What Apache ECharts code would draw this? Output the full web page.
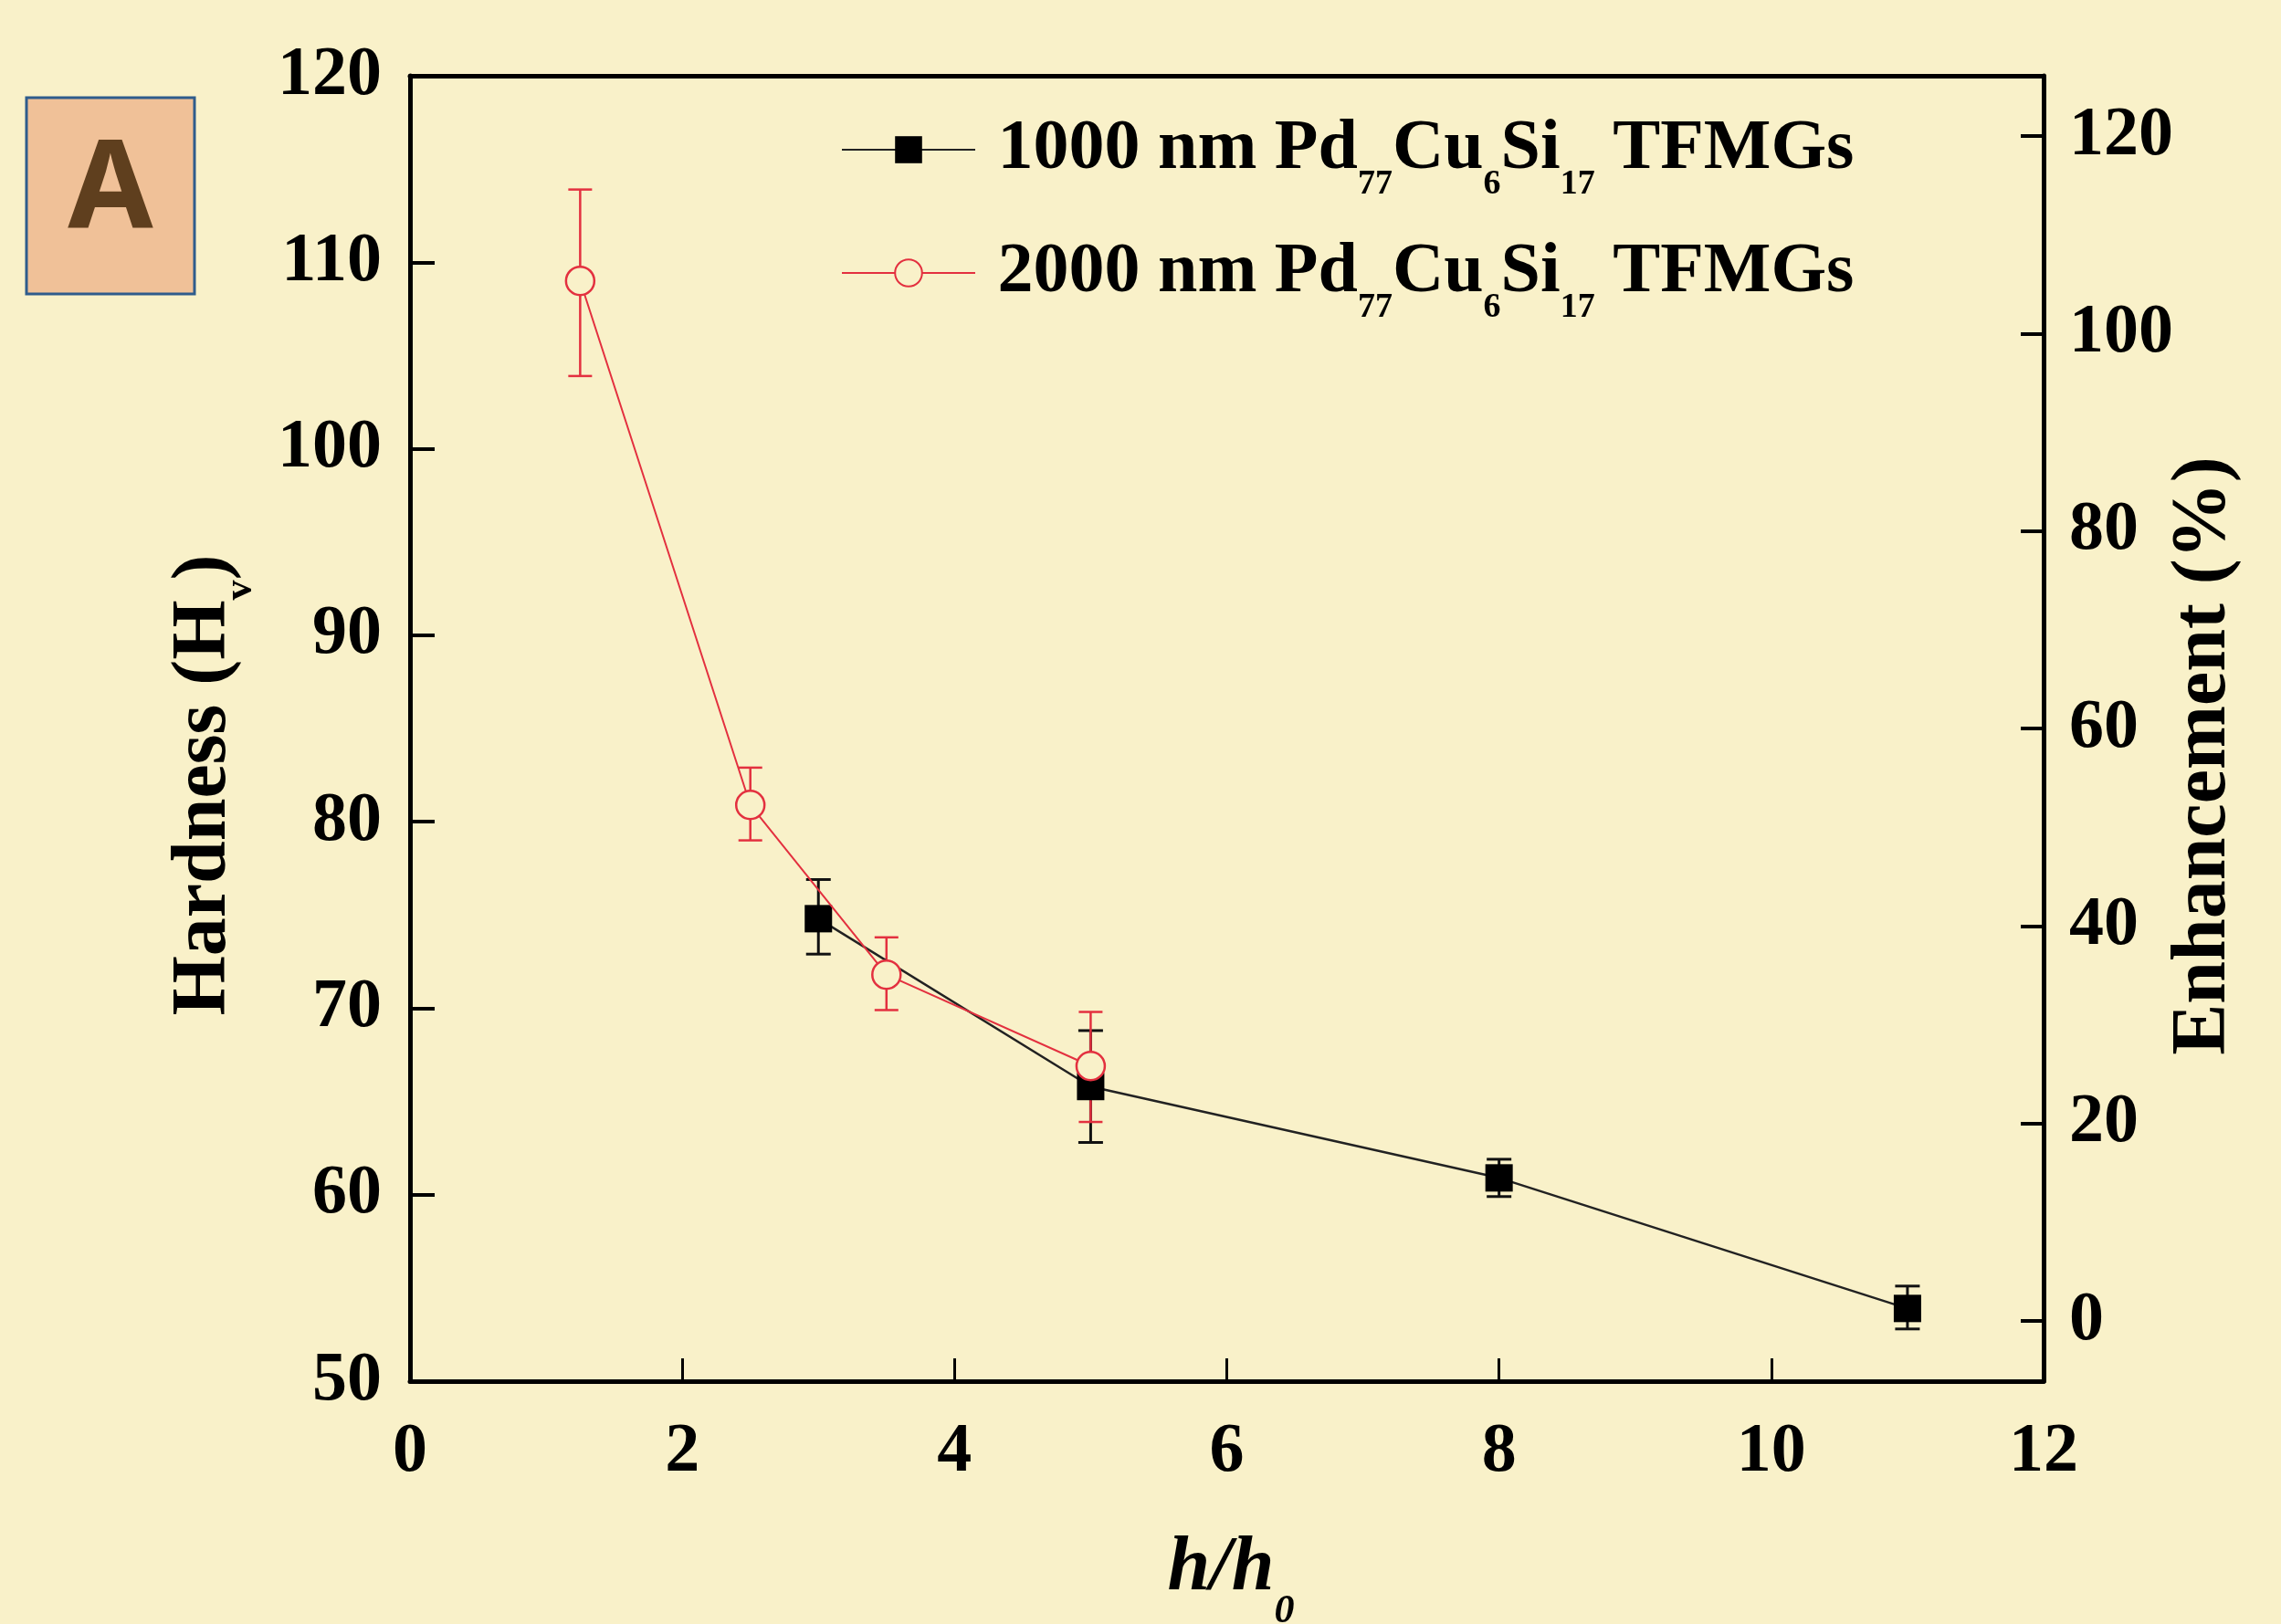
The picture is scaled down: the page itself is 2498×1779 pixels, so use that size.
<!DOCTYPE html>
<html>
<head>
<meta charset="utf-8">
<script src="https://cdn.jsdelivr.net/npm/echarts@6/dist/echarts.min.js"></script>
<style>
html,body{margin:0;padding:0;background:#F9F1C9;}
#c{width:2498px;height:1779px;}
</style>
</head>
<body>
<div id="c"></div>
<script>
// ---------- data ----------
const xTicks = [0, 2, 4, 6, 8, 10, 12];
const hardnessTicks = [50, 60, 70, 80, 90, 100, 110, 120];
const enhancementTicks = [0, 20, 40, 60, 80, 100, 120];

const name1000 = '1000 nm Pd77Cu6Si17 TFMGs';
const x1000  = [3, 5, 8, 11];
const h1000  = [74.8, 65.8, 60.9, 53.9];
const lo1000 = [72.9, 62.8, 59.9, 52.8];
const hi1000 = [76.9, 68.8, 61.9, 55.1];

const name2000 = '2000 nm Pd77Cu6Si17 TFMGs';
const x2000  = [1.25, 2.5, 3.5, 5];
const h2000  = [109.0, 80.9, 71.8, 66.9];
const lo2000 = [103.9, 79.0, 69.9, 63.9];
const hi2000 = [113.9, 82.9, 73.8, 69.8];

// enhancement axis range
const enhMin = -6.1;
const enhMax = 126.1;

// ---------- style ----------
const BG = '#F9F1C9';
const RED = '#E3303F';
const SERIF = '"Liberation Serif","Times New Roman",serif';
const TICK_FONT = 76;

function pairs(xs, ys) { return xs.map((x, i) => [x, ys[i]]); }
function errData(xs, lo, hi) { return xs.map((x, i) => [x, lo[i], hi[i]]); }

function errorBarRender(color, width, cap) {
  return function (params, api) {
    const x = api.value(0);
    const p1 = api.coord([x, api.value(1)]);
    const p2 = api.coord([x, api.value(2)]);
    const st = { stroke: color, lineWidth: width };
    return {
      type: 'group',
      children: [
        { type: 'line', shape: { x1: p1[0], y1: p1[1], x2: p2[0], y2: p2[1] }, style: st },
        { type: 'line', shape: { x1: p1[0] - cap / 2, y1: p1[1], x2: p1[0] + cap / 2, y2: p1[1] }, style: st },
        { type: 'line', shape: { x1: p2[0] - cap / 2, y1: p2[1], x2: p2[0] + cap / 2, y2: p2[1] }, style: st }
      ]
    };
  };
}

function legendLabel(name) {
  return ' ' + name.replace('Pd77', 'Pd{s|77}').replace('Cu6', 'Cu{s|6}').replace('Si17', 'Si{s|17}');
}

const legendText = {
  fontFamily: SERIF, fontWeight: 'bold', fontSize: 78, color: '#000',
  rich: {
    s: { fontFamily: SERIF, fontWeight: 'bold', fontSize: 38, color: '#000', padding: [76, 0, 0, 0] }
  }
};

function makeLegend(name, top) {
  return {
    data: [name], left: 921, top: top, orient: 'vertical', padding: 0,
    itemWidth: 146, itemHeight: 37, selectedMode: false,
    formatter: legendLabel, textStyle: legendText
  };
}

const chart = echarts.init(document.getElementById('c'), null, { renderer: 'canvas' });

const option = {
  backgroundColor: BG,
  animation: false,
  grid: { left: 449, right: 260, top: 83, bottom: 266, containLabel: false, outerBoundsMode: 'none' },
  legend: [makeLegend(name1000, 125), makeLegend(name2000, 260)],
  xAxis: [
    {
      type: 'value', min: xTicks[0], max: xTicks[xTicks.length - 1], interval: 2,
      axisLine: { show: true, onZero: false, lineStyle: { color: '#000', width: 5 } },
      axisTick: { show: true, inside: true, length: 25, lineStyle: { color: '#000', width: 3 } },
      axisLabel: { margin: 40, fontFamily: SERIF, fontWeight: 'bold', fontSize: TICK_FONT, color: '#000' },
      splitLine: { show: false }
    },
    {
      type: 'value', position: 'top', min: xTicks[0], max: xTicks[xTicks.length - 1],
      axisLine: { show: true, onZero: false, lineStyle: { color: '#000', width: 5 } },
      axisTick: { show: false }, axisLabel: { show: false }, splitLine: { show: false }
    }
  ],
  yAxis: [
    {
      type: 'value', min: hardnessTicks[0], max: hardnessTicks[hardnessTicks.length - 1], interval: 10,
      axisLine: { show: true, onZero: false, lineStyle: { color: '#000', width: 5 } },
      axisTick: { show: true, inside: true, length: 27, lineStyle: { color: '#000', width: 4 } },
      axisLabel: { margin: 31, fontFamily: SERIF, fontWeight: 'bold', fontSize: TICK_FONT, color: '#000' },
      splitLine: { show: false }
    },
    {
      type: 'value', position: 'right', min: enhMin, max: enhMax, alignTicks: false,
      axisLine: { show: true, onZero: false, lineStyle: { color: '#000', width: 5 } },
      axisTick: { show: true, inside: true, length: 25, customValues: enhancementTicks, lineStyle: { color: '#000', width: 4 } },
      axisLabel: { margin: 28, customValues: enhancementTicks, fontFamily: SERIF, fontWeight: 'bold', fontSize: TICK_FONT, color: '#000' },
      splitLine: { show: false }
    }
  ],
  series: [
    {
      type: 'custom', name: 'err1000', renderItem: errorBarRender('#111', 3, 27),
      data: errData(x1000, lo1000, hi1000), encode: { x: 0, y: [1, 2] }, z: 1, silent: true
    },
    {
      type: 'custom', name: 'err2000', renderItem: errorBarRender(RED, 2.5, 26),
      data: errData(x2000, lo2000, hi2000), encode: { x: 0, y: [1, 2] }, z: 1, silent: true
    },
    {
      type: 'line', name: name1000, data: pairs(x1000, h1000), z: 3,
      symbol: 'rect', symbolSize: 30,
      lineStyle: { color: '#222', width: 2.5 },
      itemStyle: { color: '#000', borderWidth: 0 }
    },
    {
      type: 'line', name: name2000, data: pairs(x2000, h2000), z: 4,
      symbol: 'circle', symbolSize: 31, showAllSymbol: true,
      lineStyle: { color: RED, width: 2 },
      itemStyle: { color: BG, borderColor: RED, borderWidth: 2.5 }
    }
  ],
  graphic: [
    { type: 'rect', shape: { x: 29, y: 107, width: 184, height: 215 },
      style: { fill: '#F0C198', stroke: '#2F5C8C', lineWidth: 3 } },
    { type: 'text', x: 121, y: 212,
      style: { text: 'A', fontFamily: '"Noto Sans","Open Sans",sans-serif', fontWeight: 'bold', fontSize: 135,
               fill: '#5F3F1E', align: 'center', verticalAlign: 'middle' } },
    { type: 'text', x: 224, y: 860, rotation: Math.PI / 2,
      style: { text: '{b|Hardness (H}{s|v}{b|)}', align: 'center', verticalAlign: 'middle',
        rich: {
          b: { fontFamily: SERIF, fontWeight: 'bold', fontSize: 84, fill: '#000' },
          s: { fontFamily: SERIF, fontWeight: 'bold', fontSize: 44, fill: '#000', padding: [79, 0, 0, 0] }
        } } },
    { type: 'text', x: 2414, y: 828, rotation: Math.PI / 2,
      style: { text: 'Enhancement (%)', align: 'center', verticalAlign: 'middle',
               fontFamily: SERIF, fontWeight: 'bold', fontSize: 84, fill: '#000' } },
    { type: 'text', x: 1348, y: 1719,
      style: { text: '{b|h/h}{s|0}', align: 'center', verticalAlign: 'middle',
        rich: {
          b: { fontFamily: SERIF, fontWeight: 'bold', fontStyle: 'italic', fontSize: 84, fill: '#000' },
          s: { fontFamily: SERIF, fontWeight: 'bold', fontStyle: 'italic', fontSize: 44, fill: '#000', padding: [93, 0, 0, 0] }
        } } }
  ]
};

chart.setOption(option);
</script>
</body>
</html>
